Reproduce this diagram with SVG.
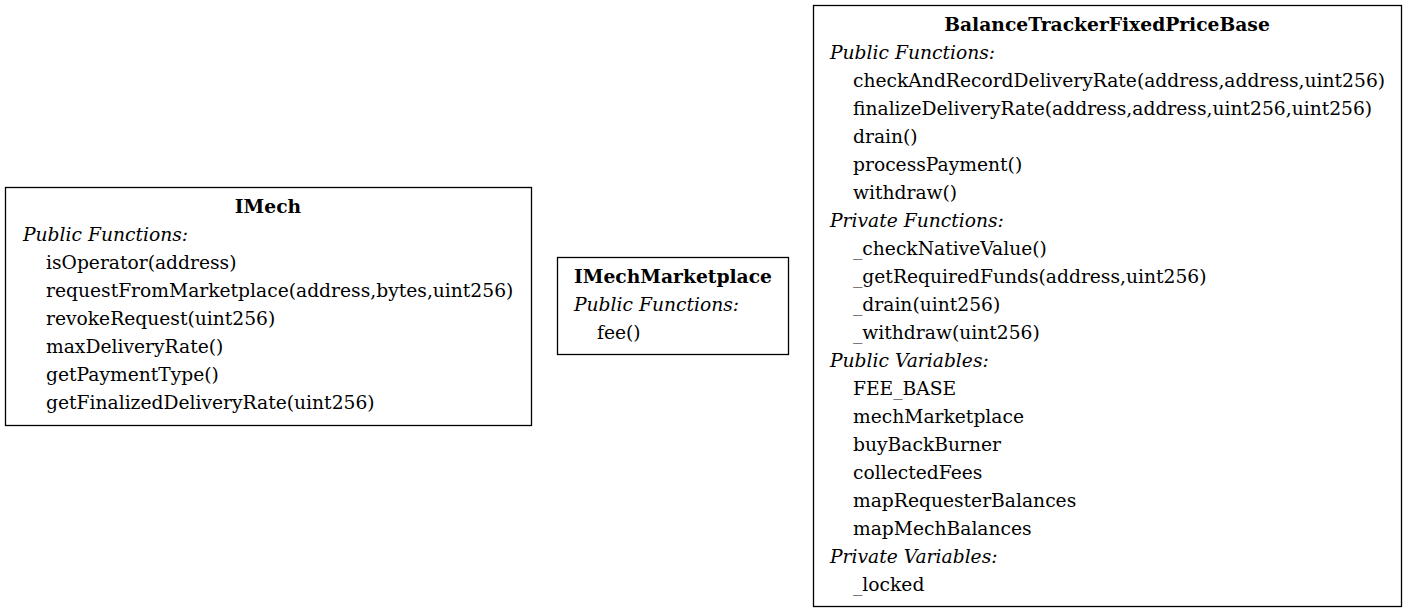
<svg xmlns="http://www.w3.org/2000/svg" width="1407" height="612" viewBox="0 0 1407 612">
<style>
text{font-family:"DejaVu Serif","Liberation Serif",serif;font-size:18.7px;fill:#000}
.t{font-weight:bold;text-anchor:middle}
.s{font-style:italic}
rect{fill:none;stroke:#000;stroke-width:1.3}
</style>
<rect x="0" y="0" width="1407" height="612" style="fill:#fff;stroke:none"/>
<g id="connectors"></g>
<g id="IMech">
<rect x="5.5" y="187.5" width="526" height="238"/>
<text class="t" x="268" y="213">IMech</text>
<text class="s" x="23" y="241">Public Functions:</text>
<text x="46" y="269">isOperator(address)</text>
<text x="46" y="297">requestFromMarketplace(address,bytes,uint256)</text>
<text x="46" y="325">revokeRequest(uint256)</text>
<text x="46" y="353">maxDeliveryRate()</text>
<text x="46" y="381">getPaymentType()</text>
<text x="46" y="409">getFinalizedDeliveryRate(uint256)</text>
</g>
<g id="IMechMarketplace">
<rect x="557.5" y="257.5" width="231" height="97"/>
<text class="t" x="673" y="283">IMechMarketplace</text>
<text class="s" x="574" y="311">Public Functions:</text>
<text x="597" y="339">fee()</text>
</g>
<g id="BalanceTrackerFixedPriceBase">
<rect x="813.5" y="5.5" width="588" height="601"/>
<text class="t" x="1107" y="31">BalanceTrackerFixedPriceBase</text>
<text class="s" x="830" y="59">Public Functions:</text>
<text x="853" y="87">checkAndRecordDeliveryRate(address,address,uint256)</text>
<text x="853" y="115">finalizeDeliveryRate(address,address,uint256,uint256)</text>
<text x="853" y="143">drain()</text>
<text x="853" y="171">processPayment()</text>
<text x="853" y="199">withdraw()</text>
<text class="s" x="830" y="227">Private Functions:</text>
<text x="853" y="255">_checkNativeValue()</text>
<text x="853" y="283">_getRequiredFunds(address,uint256)</text>
<text x="853" y="311">_drain(uint256)</text>
<text x="853" y="339">_withdraw(uint256)</text>
<text class="s" x="830" y="367">Public Variables:</text>
<text x="853" y="395">FEE_BASE</text>
<text x="853" y="423">mechMarketplace</text>
<text x="853" y="451">buyBackBurner</text>
<text x="853" y="479">collectedFees</text>
<text x="853" y="507">mapRequesterBalances</text>
<text x="853" y="535">mapMechBalances</text>
<text class="s" x="830" y="563">Private Variables:</text>
<text x="853" y="591">_locked</text>
</g>
</svg>
